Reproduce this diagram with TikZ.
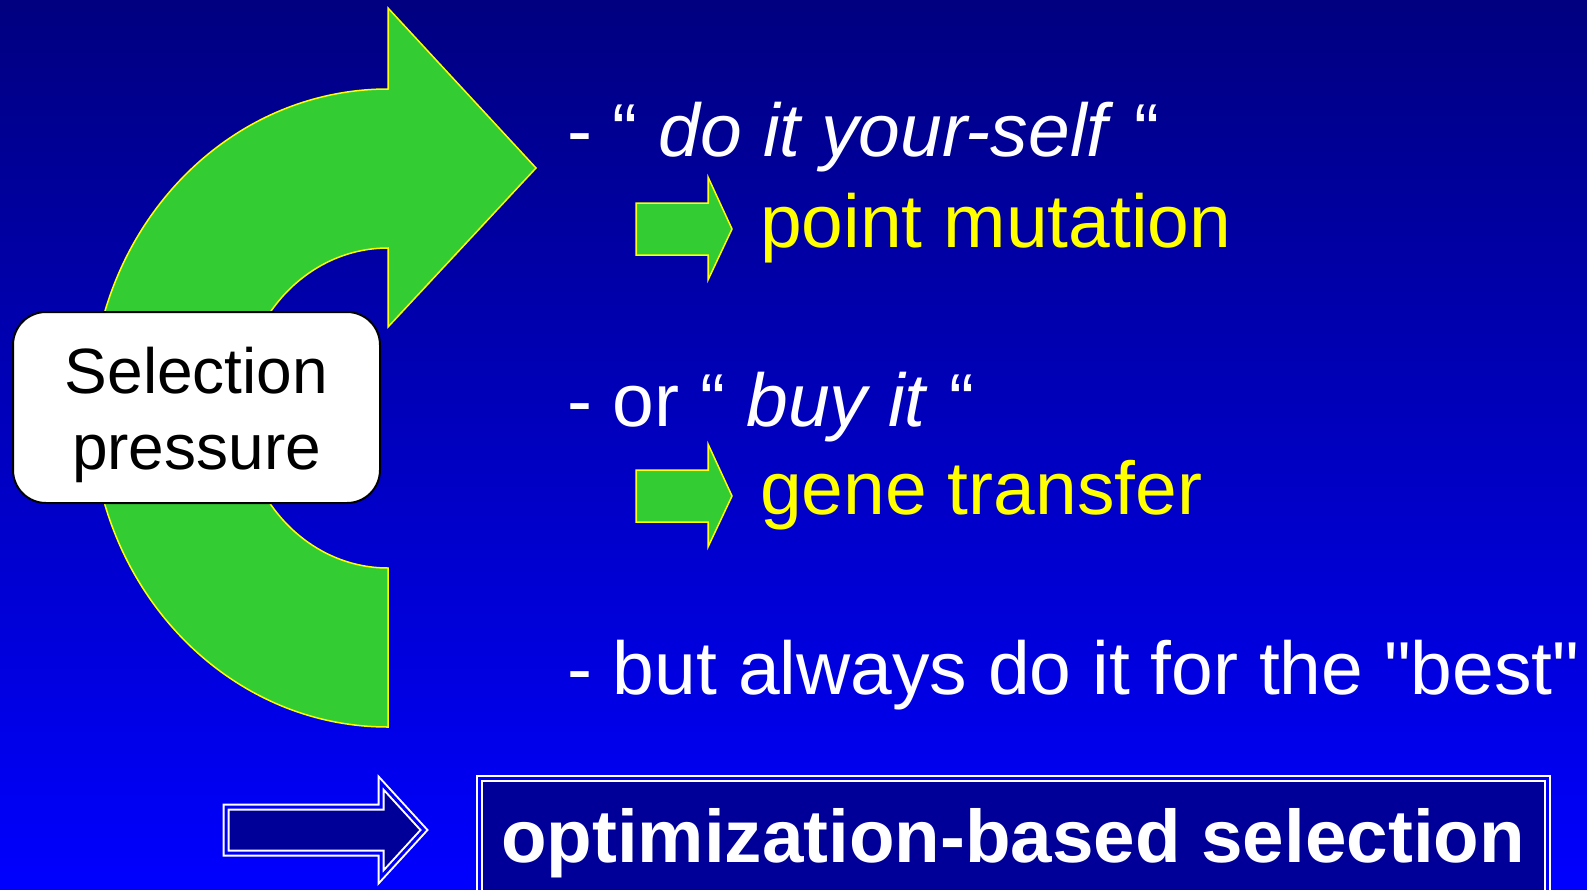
\documentclass[tikz,border=0pt]{standalone}
\usepackage{fontspec}
\setmainfont{Liberation Sans}[Ligatures=TeXOff]
\definecolor{bgtop}{RGB}{0,0,128}
\definecolor{bgbot}{RGB}{0,0,255}
\definecolor{agreen}{RGB}{51,204,51}
\definecolor{ayellow}{RGB}{255,255,0}
\definecolor{navyfill}{RGB}{0,0,153}
\definecolor{gapblue}{RGB}{0,0,245}
\begin{document}
\begin{tikzpicture}[x=1pt,y=-1pt,
  greenarrow/.style={fill=agreen, draw=ayellow, line width=1.5pt, line join=miter},
  hollowshape/.style={fill=navyfill, draw=white, line width=2pt, double=gapblue, double distance=3pt, line join=miter},
  whitetext/.style={text=white, inner sep=0pt, font=\fontsize{75}{88}\selectfont},
  yellowtext/.style={text=ayellow, inner sep=0pt, font=\fontsize{75}{88}\selectfont},
  boldtext/.style={text=white, inner sep=0pt, font=\fontsize{74.6}{88}\selectfont\bfseries},
  blacktext/.style={text=black, inner sep=0pt, font=\fontsize{64}{74}\selectfont},
  selbox/.style={draw=black, line width=2pt, fill=white, rounded corners=33pt, minimum width=367pt, minimum height=191pt, inner sep=0pt}]
\useasboundingbox (0,0) rectangle (1587,889);
\shade[top color=bgtop, bottom color=bgbot] (0,0) rectangle (1587,889);

% big curved arrow
\draw[greenarrow] (388,727) arc[start angle=90, end angle=270, x radius=297, y radius=319]
  -- (388,8) -- (536,168) -- (388,327) -- (388,248)
  arc[start angle=270, end angle=90, x radius=147, y radius=160] -- cycle;

% selection pressure box
\node[selbox] (sel) at (196.5,407.5) {};
\node[blacktext, anchor=base] (sel1) at (196.5,393) {Selection};
\node[blacktext, anchor=base] (sel2) at (196.5,469) {pressure};

% texts
\node[whitetext, anchor=base west] (t1) at (567,156) {- “ \textit{do it your-self} “};
\node[yellowtext, anchor=base west] (t2) at (760,247) {point mutation};
\node[whitetext, anchor=base west] (t3) at (567,426) {- or “ \textit{buy it} “};
\node[yellowtext, anchor=base west] (t4) at (760,514) {gene transfer};
\node[whitetext, anchor=base west] (t5) at (567,694) {- but always do it for the "best"};

% small green arrows
\draw[greenarrow] (636,203) -- (708,203) -- (708,177) -- (732,229) -- (708,280) -- (708,255) -- (636,255) -- cycle;
\draw[greenarrow] (636,470) -- (708,470) -- (708,444) -- (732,496) -- (708,547) -- (708,522) -- (636,522) -- cycle;

% bottom hollow arrow
\draw[hollowshape] (226,807) -- (381,807) -- (381,783) -- (424,830) -- (381,877) -- (381,853) -- (226,853) -- cycle;

% bottom box
\draw[hollowshape] (479.5,778.5) rectangle (1547.5,905);
\node[boldtext, anchor=base] (opt) at (1013,862) {optimization-based selection};
\end{tikzpicture}
\end{document}
